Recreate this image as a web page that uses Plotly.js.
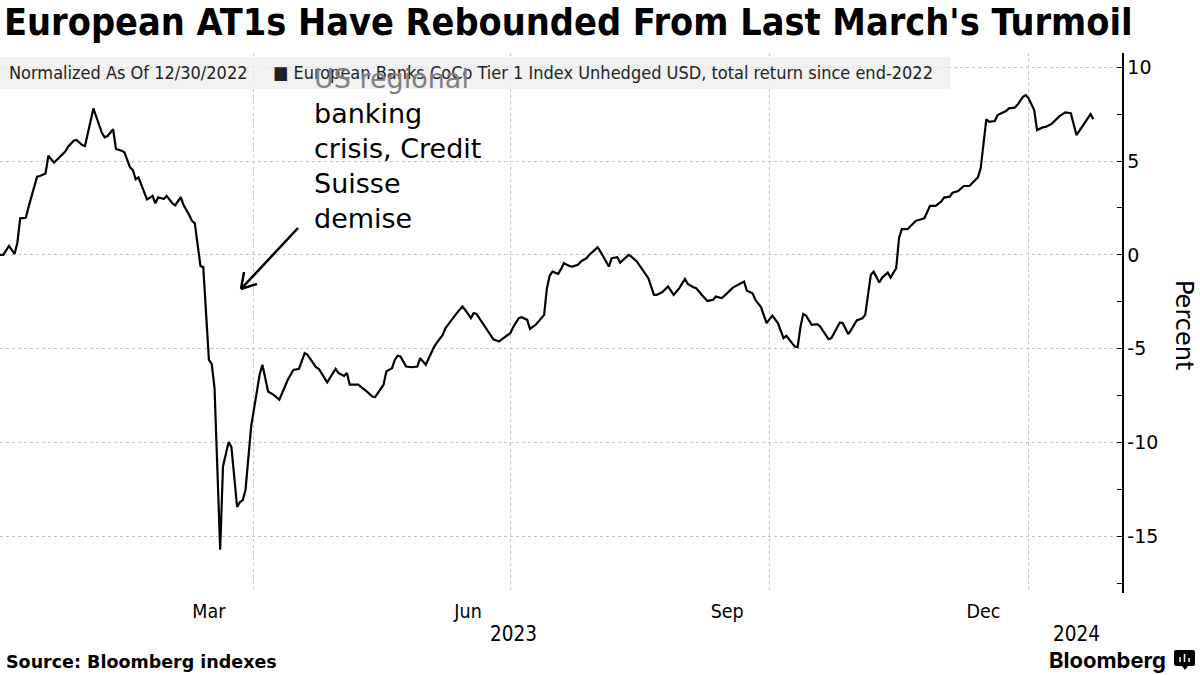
<!DOCTYPE html>
<html><head><meta charset="utf-8">
<script src="https://cdn.plot.ly/plotly-3.0.1.min.js"></script>
<style>html,body{margin:0;padding:0;background:#fff;} #chart{width:1200px;height:675px;}</style>
</head><body><div id="chart"></div>
<script>
const dates = ['2022-12-30','2023-01-02','2023-01-04','2023-01-06','2023-01-07','2023-01-08','2023-01-10','2023-01-11','2023-01-14','2023-01-15','2023-01-17','2023-01-18','2023-01-20','2023-01-23','2023-01-24','2023-01-25','2023-01-27','2023-01-28','2023-01-30','2023-01-31','2023-02-01','2023-02-03','2023-02-04','2023-02-06','2023-02-07','2023-02-08','2023-02-10','2023-02-11','2023-02-13','2023-02-14','2023-02-16','2023-02-17','2023-02-18','2023-02-19','2023-02-22','2023-02-24','2023-02-25','2023-02-26','2023-02-28','2023-03-01','2023-03-03','2023-03-04','2023-03-06','2023-03-07','2023-03-09','2023-03-10','2023-03-11','2023-03-13','2023-03-14','2023-03-16','2023-03-17','2023-03-18','2023-03-20','2023-03-21','2023-03-23','2023-03-24','2023-03-26','2023-03-27','2023-03-28','2023-03-29','2023-03-31','2023-04-03','2023-04-04','2023-04-06','2023-04-08','2023-04-10','2023-04-13','2023-04-15','2023-04-17','2023-04-19','2023-04-20','2023-04-22','2023-04-23','2023-04-24','2023-04-26','2023-04-27','2023-04-30','2023-05-01','2023-05-03','2023-05-04','2023-05-05','2023-05-08','2023-05-11','2023-05-13','2023-05-14','2023-05-17','2023-05-18','2023-05-20','2023-05-21','2023-05-22','2023-05-23','2023-05-25','2023-05-27','2023-05-29','2023-05-30','2023-06-01','2023-06-03','2023-06-04','2023-06-05','2023-06-07','2023-06-08','2023-06-10','2023-06-11','2023-06-12','2023-06-14','2023-06-15','2023-06-17','2023-06-18','2023-06-19','2023-06-21','2023-06-23','2023-06-25','2023-06-27','2023-06-29','2023-07-01','2023-07-02','2023-07-04','2023-07-05','2023-07-07','2023-07-08','2023-07-10','2023-07-11','2023-07-13','2023-07-14','2023-07-15','2023-07-16','2023-07-18','2023-07-19','2023-07-20','2023-07-22','2023-07-23','2023-07-25','2023-07-26','2023-07-28','2023-07-29','2023-07-31','2023-08-01','2023-08-02','2023-08-04','2023-08-05','2023-08-06','2023-08-08','2023-08-09','2023-08-11','2023-08-12','2023-08-13','2023-08-15','2023-08-16','2023-08-19','2023-08-21','2023-08-22','2023-08-24','2023-08-26','2023-08-28','2023-08-30','2023-09-01','2023-09-02','2023-09-04','2023-09-05','2023-09-07','2023-09-09','2023-09-11','2023-09-12','2023-09-14','2023-09-15','2023-09-18','2023-09-20','2023-09-22','2023-09-23','2023-09-25','2023-09-26','2023-09-28','2023-09-30','2023-10-02','2023-10-04','2023-10-06','2023-10-07','2023-10-09','2023-10-10','2023-10-11','2023-10-12','2023-10-13','2023-10-14','2023-10-16','2023-10-18','2023-10-19','2023-10-22','2023-10-23','2023-10-24','2023-10-26','2023-10-27','2023-10-29','2023-10-30','2023-11-01','2023-11-03','2023-11-04','2023-11-05','2023-11-06','2023-11-07','2023-11-09','2023-11-10','2023-11-12','2023-11-13','2023-11-15','2023-11-16','2023-11-17','2023-11-19','2023-11-20','2023-11-22','2023-11-23','2023-11-25','2023-11-27','2023-11-29','2023-12-01','2023-12-02','2023-12-04','2023-12-05','2023-12-07','2023-12-09','2023-12-11','2023-12-12','2023-12-14','2023-12-15','2023-12-17','2023-12-18','2023-12-20','2023-12-21','2023-12-23','2023-12-24','2023-12-25','2023-12-27','2023-12-28','2023-12-30','2023-12-31','2024-01-01','2024-01-03','2024-01-04','2024-01-06','2024-01-07','2024-01-09','2024-01-10','2024-01-12','2024-01-14','2024-01-16','2024-01-18','2024-01-23','2024-01-24'];
const values = [0,0.00,0.48,0.05,0.65,1.95,1.98,2.57,4.17,4.20,4.34,5.28,4.91,5.32,5.50,5.76,6.08,6.12,5.85,5.80,6.47,7.80,7.36,6.50,6.26,6.33,6.69,5.64,5.55,5.46,4.66,4.52,4.03,4.13,2.96,3.14,2.75,3.07,2.98,3.14,2.75,2.64,3.07,2.66,2.13,1.81,1.68,-0.59,-0.65,-5.59,-5.80,-7.09,-15.69,-11.26,-9.96,-10.23,-13.42,-13.16,-13.07,-12.50,-9.13,-6.38,-5.85,-7.27,-7.45,-7.71,-6.65,-6.12,-6.06,-5.23,-5.32,-5.73,-5.98,-6.06,-6.56,-6.79,-6.06,-6.29,-6.44,-6.29,-6.91,-6.91,-7.27,-7.54,-7.57,-6.91,-6.20,-6.03,-5.59,-5.37,-5.41,-5.94,-5.98,-5.94,-5.50,-5.85,-5.20,-4.88,-4.66,-4.26,-3.90,-3.49,-3.32,-3.10,-2.75,-2.93,-3.37,-3.10,-3.14,-3.60,-3.99,-4.49,-4.61,-4.38,-4.17,-3.85,-3.37,-3.32,-3.46,-3.94,-3.72,-3.55,-3.19,-1.77,-1.10,-0.89,-1.01,-0.76,-0.44,-0.59,-0.62,-0.53,-0.36,-0.18,0.00,0.27,0.41,0.18,-0.41,-0.62,-0.18,-0.12,-0.41,-0.12,0.00,-0.09,-0.36,-0.59,-1.24,-2.13,-2.13,-1.98,-1.68,-2.13,-1.77,-1.28,-1.54,-1.72,-1.77,-2.13,-2.45,-2.39,-2.22,-2.30,-2.18,-1.74,-1.60,-1.42,-1.91,-2.04,-2.39,-2.78,-3.63,-3.23,-3.63,-4.43,-4.31,-4.70,-4.88,-4.91,-3.85,-3.14,-3.23,-3.72,-3.69,-3.81,-4.49,-4.43,-4.17,-3.60,-3.63,-4.22,-3.99,-3.49,-3.37,-3.19,-2.13,-1.06,-0.89,-1.47,-1.21,-0.94,-1.21,-0.71,0.89,1.37,1.37,1.54,1.82,1.86,1.95,2.61,2.61,2.84,3.05,3.10,3.31,3.40,3.67,3.67,3.81,4.13,4.61,7.22,7.09,7.13,7.45,7.57,7.66,7.80,7.84,7.98,8.42,8.51,8.34,7.71,6.65,6.79,6.82,6.95,7.09,7.39,7.59,7.54,6.38,7.50,7.23];

const yTickVals = [10, 5, 0, -5, -10, -15];
const yTickText = ['10', '5', '0', '-5', '-10', '-15'];
const yMinorVals = [7.5, 2.5, -2.5, -7.5, -12.5, -17.5];
const quarterStarts = ['2023-01-01', '2023-04-01', '2023-07-01', '2023-10-01', '2024-01-01'];
const monthTickVals = ['2023-03-16', '2023-06-16', '2023-09-16', '2023-12-16'];
const monthTickText = ['Mar', 'Jun', 'Sep', 'Dec'];
const yearLabelPos = ['2023-07-02', '2024-01-18'];
const yearLabels = ['2023', '2024'];
const xRange = ['2022-12-31 20:00', '2024-02-03 04:00'];
const yRange = [-18, 10.75];

const titleText = "European AT1s Have Rebounded From Last March's Turmoil";
const normLabel = 'Normalized As Of 12/30/2022';
const seriesName = 'European Banks CoCo Tier 1 Index Unhedged USD, total return since end-2022';
const noteLines = ['US regional', 'banking', 'crisis, Credit', 'Suisse', 'demise'];
const sourceText = 'Source: Bloomberg indexes';
const brandText = 'Bloomberg';
const yTitle = 'Percent';

const FONT = "'DejaVu Sans Condensed', 'Liberation Sans Narrow', 'DejaVu Sans', sans-serif";
const FONT_W = "'DejaVu Sans', 'Liberation Sans', sans-serif";
const GRID = '#c4c4c4';

// pixel helpers for paper coordinates (plot area: x 0..1122, y 53..593)
const PW = 1122, PT = 53, PB = 593, PH = PB - PT;
const px = v => v / PW;
const py = v => (PB - v) / PH;

const trace = {
  type: 'scatter', mode: 'lines', x: dates, y: values, name: seriesName,
  line: {color: '#000', width: 2.2}, showlegend: false, hoverinfo: 'x+y'
};

const noteText = '<span style="color:#808080">' + noteLines[0] + '</span><br>' + noteLines.slice(1).join('<br>');

const annotations = [
  {xref: 'paper', yref: 'paper', x: px(7), y: py(72), xanchor: 'left', yanchor: 'middle', showarrow: false,
   text: normLabel, font: {family: FONT, size: 18, color: '#222'}},
  {xref: 'paper', yref: 'paper', x: px(271), y: py(72), xanchor: 'left', yanchor: 'middle', showarrow: false,
   text: '■ ' + seriesName, font: {family: FONT, size: 18, color: '#222'}},
  {xref: 'paper', yref: 'paper', x: px(312), y: py(61), xanchor: 'left', yanchor: 'top', align: 'left', showarrow: false,
   text: noteText, font: {family: FONT_W, size: 27, color: '#000'}},
  {xref: 'paper', yref: 'paper', x: px(4), y: py(662), xanchor: 'left', yanchor: 'middle', showarrow: false,
   text: '<b>' + sourceText + '</b>', font: {family: FONT_W, size: 17.5, color: '#000'}},
  {xref: 'paper', yref: 'paper', x: px(1168), y: py(660), xanchor: 'right', yanchor: 'middle', showarrow: false,
   text: '<b>' + brandText + '</b>', font: {family: 'Inter, Roboto, sans-serif', size: 22, color: '#000'}},
  {xref: 'paper', yref: 'paper', x: px(1184), y: py(325), xanchor: 'center', yanchor: 'middle', showarrow: false,
   textangle: 90, text: yTitle, font: {family: FONT_W, size: 24, color: '#000'}}
];
yearLabels.forEach((t, i) => annotations.push({
  xref: 'x', yref: 'paper', x: yearLabelPos[i], y: py(634), xanchor: 'center', yanchor: 'middle', showarrow: false,
  text: t, font: {family: FONT, size: 20.5, color: '#000'}
}));

const shapes = [
  {type: 'rect', xref: 'paper', yref: 'paper', x0: 0, x1: px(950), y0: py(89), y1: py(57),
   fillcolor: 'rgba(238,238,238,0.75)', line: {width: 0}, layer: 'above'},
  {type: 'line', xref: 'paper', yref: 'paper', x0: px(298), y0: py(228), x1: px(241), y1: py(289), line: {color: '#000', width: 2.5}},
  {type: 'line', xref: 'paper', yref: 'paper', x0: px(241), y0: py(289), x1: px(257), y1: py(284), line: {color: '#000', width: 2.5}},
  {type: 'line', xref: 'paper', yref: 'paper', x0: px(241), y0: py(289), x1: px(244), y1: py(272), line: {color: '#000', width: 2.5}},
  {type: 'path', xref: 'paper', yref: 'paper',
   path: `M ${px(1176)} ${py(650)} L ${px(1193)} ${py(650)} Q ${px(1195)} ${py(650)} ${px(1195)} ${py(652)} L ${px(1195)} ${py(664)} Q ${px(1195)} ${py(666)} ${px(1193)} ${py(666)} L ${px(1188)} ${py(666)} L ${px(1185)} ${py(670)} L ${px(1182)} ${py(666)} L ${px(1176)} ${py(666)} Q ${px(1174)} ${py(666)} ${px(1174)} ${py(664)} L ${px(1174)} ${py(652)} Q ${px(1174)} ${py(650)} ${px(1176)} ${py(650)} Z`,
   fillcolor: '#000', line: {width: 0}},
  {type: 'line', xref: 'paper', yref: 'paper', x0: px(1180), x1: px(1180), y0: py(662), y1: py(657), line: {color: '#fff', width: 1.5}},
  {type: 'line', xref: 'paper', yref: 'paper', x0: px(1184.5), x1: px(1184.5), y0: py(662), y1: py(654), line: {color: '#fff', width: 1.5}},
  {type: 'line', xref: 'paper', yref: 'paper', x0: px(1189), x1: px(1189), y0: py(662), y1: py(658), line: {color: '#fff', width: 1.5}}
];

const layout = {
  width: 1200, height: 675,
  margin: {l: 0, r: 1200 - PW, t: PT, b: 675 - PB, pad: 0},
  paper_bgcolor: '#fff', plot_bgcolor: '#fff',
  title: {text: '<b>' + titleText + '</b>', x: 4 / 1200, xanchor: 'left', y: 1 - 22 / 675, yanchor: 'middle',
          font: {family: FONT, size: 37.5, color: '#000'}},
  xaxis: {
    type: 'date', range: xRange, tickmode: 'array', tickvals: monthTickVals, ticktext: monthTickText,
    showgrid: false, zeroline: false, showline: false, ticks: '',
    tickfont: {family: FONT, size: 19.5, color: '#000'}, ticklabelstandoff: 4,
    minor: {tickmode: 'array', tickvals: quarterStarts, showgrid: true, gridcolor: GRID, griddash: 'dot', gridwidth: 1, ticks: ''}
  },
  yaxis: {
    side: 'right', range: yRange, tickmode: 'array', tickvals: yTickVals, ticktext: yTickText,
    showgrid: true, gridcolor: GRID, griddash: 'dot', gridwidth: 1, zeroline: false,
    showline: true, linecolor: '#000', linewidth: 1.5,
    ticks: 'inside', ticklen: 5, tickcolor: '#000', tickwidth: 1,
    tickfont: {family: FONT_W, size: 19, color: '#000'},
    minor: {tickmode: 'array', tickvals: yMinorVals, ticks: 'inside', ticklen: 5, tickcolor: '#000', tickwidth: 1, showgrid: false}
  },
  annotations: annotations,
  shapes: shapes,
  showlegend: false
};

Plotly.newPlot('chart', [trace], layout, {displayModeBar: false, staticPlot: true});
</script>
</body></html>
